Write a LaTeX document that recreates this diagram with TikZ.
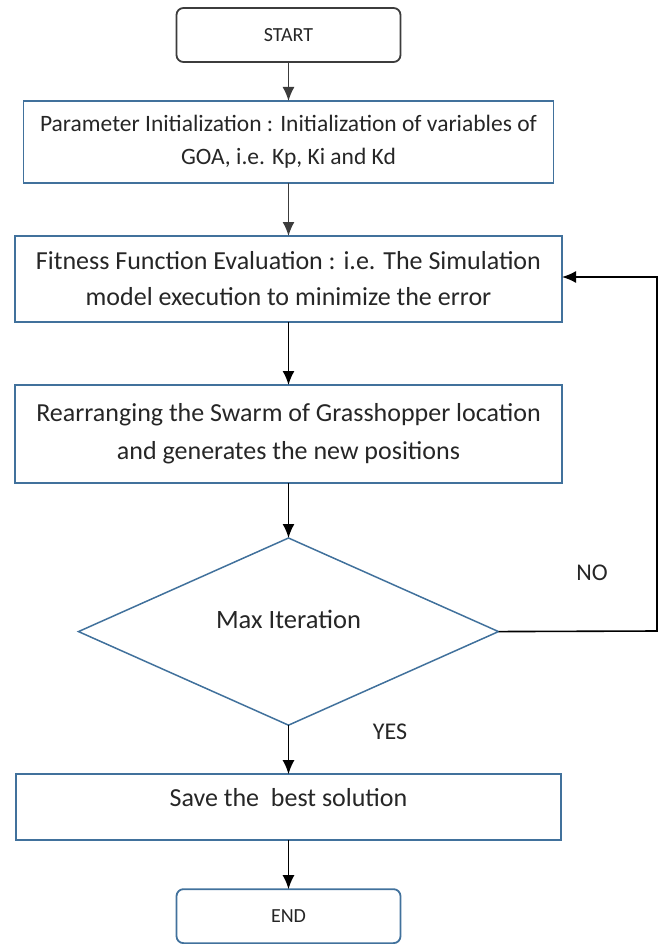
\documentclass[tikz,border=0pt]{standalone}
\usepackage{fontspec}
\setmainfont{Carlito}
\usetikzlibrary{shapes.geometric, positioning, arrows.meta}
\definecolor{boxblue}{RGB}{65,113,156}
\definecolor{darkline}{RGB}{60,60,60}

\begin{document}
\begin{tikzpicture}[x=1pt,y=1pt,
    process/.style={rectangle, draw=boxblue, line width=1.8pt,
        align=center, inner sep=0pt, outer sep=0pt, text=black!85},
    terminal/.style={rectangle, rounded corners=7pt, line width=1.8pt,
        minimum width=224pt, minimum height=54pt, inner sep=0pt, outer sep=0pt,
        font=\fontsize{20}{24}\selectfont, text=black!85},
    decision/.style={diamond, draw=boxblue, line width=1.5pt,
        minimum width=420pt, minimum height=186pt, inner sep=0pt, outer sep=0pt,
        font=\fontsize{26.5}{30}\selectfont, text=black!85},
    tag/.style={font=\fontsize{24}{28}\selectfont, text=black!85},
    flow/.style={-{Latex[length=14pt,width=12pt]}, line width=1.6pt}]
    \useasboundingbox (0,0) rectangle (659,-944);
    % Add the blocks
        \node[terminal,
              draw=darkline
              ] (start) at (288.5,-35) {START};
        \node[process,
              below=39pt of start,
              minimum width=530pt,
              minimum height=82pt,
              font=\fontsize{23.5}{33}\selectfont
              ] (init) {Parameter Initialization : Initialization of variables of\\GOA, i.e. Kp, Ki and Kd};
        \node[process,
              below=53pt of init,
              minimum width=547pt,
              minimum height=86pt,
              font=\fontsize{26}{36}\selectfont
              ] (fitness) {Fitness Function Evaluation : i.e. The Simulation\\model execution to minimize the error};
        \node[process,
              below=63pt of fitness,
              minimum width=547pt,
              minimum height=98pt,
              font=\fontsize{26}{38}\selectfont
              ] (swarm) {Rearranging the Swarm of Grasshopper location\\and generates the new positions};
        \node[decision,
              below=55pt of swarm,
              text depth=24pt
              ] (maxit) {Max Iteration};
        \node[process,
              below=49pt of maxit,
              minimum width=545pt,
              minimum height=66pt,
              text depth=20pt,
              font=\fontsize{26}{30}\selectfont
              ] (save) {Save the\ \ best solution};
        \node[terminal,
              below=49pt of save,
              draw=boxblue
              ] (end) {END};
        \coordinate (turn) at (657,-631);
        \node[tag] (no) at (592,-573) {NO};
        \node[tag] (yes) at (390,-732) {YES};

    % connectors
       \draw[flow, darkline] (start.south) -- (init.north);
       \draw[flow, darkline] (init.south) -- (fitness.north);
       \draw[flow] (fitness.south) -- (swarm.north);
       \draw[flow] (swarm.south) -- (maxit.north);
       \draw[flow] (maxit.south) -- (save.north);
       \draw[flow] (save.south) -- (end.north);
       \draw[flow] (maxit.east) -- (turn) |- ([yshift=2pt]fitness.east);
    \end{tikzpicture}
\end{document}
